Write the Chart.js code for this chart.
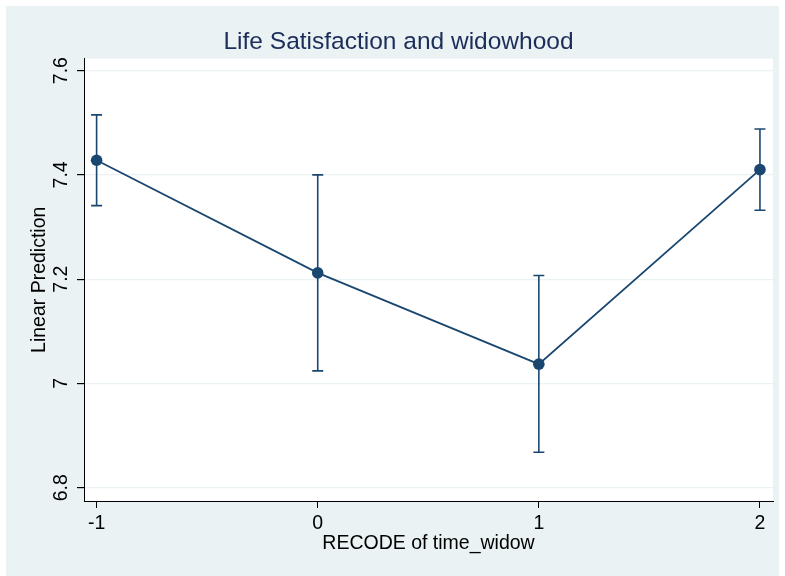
<!DOCTYPE html>
<html>
<head>
<meta charset="utf-8">
<script src="https://cdn.jsdelivr.net/npm/chart.js@4.4.0/dist/chart.umd.min.js"></script>
<style>
  html, body { margin: 0; padding: 0; background: #fff; }
  canvas { display: block; }
</style>
</head>
<body>
<canvas id="myChart" width="785" height="576"></canvas>
<script>
// values
const xValues = [-1, 0, 1, 2];
const xTickLabels = ['-1', '0', '1', '2'];
const yTicks = [6.8, 7, 7.2, 7.4, 7.6];
const yTickLabels = ['6.8', '7', '7.2', '7.4', '7.6'];
const prediction = [7.428, 7.212, 7.037, 7.410];
const ciLow = [7.341, 7.024, 6.868, 7.332];
const ciHigh = [7.515, 7.400, 7.207, 7.488];

const navy = '#1a476f';
const panelBg = '#eaf2f3';
const fontFamily = "'Liberation Sans', Arial, sans-serif";

// error bars as pairs of points separated by gaps
const errorPoints = [];
xValues.forEach((x, i) => {
    errorPoints.push({ x: x, y: ciLow[i] });
    errorPoints.push({ x: x, y: ciHigh[i] });
    errorPoints.push({ x: x, y: null });
});

const background = {
    id: 'background',
    beforeDraw(chart) {
        const { ctx, chartArea } = chart;
        ctx.save();
        ctx.fillStyle = '#fff';
        ctx.fillRect(0, 0, chart.width, chart.height);
        ctx.fillStyle = panelBg;
        ctx.fillRect(6, 6, 773, chart.height - 6);
        ctx.fillStyle = '#fff';
        ctx.fillRect(chartArea.left, chartArea.top, chartArea.right - chartArea.left, chartArea.bottom - chartArea.top);
        ctx.restore();
    }
};

new Chart(document.getElementById('myChart'), {
    type: 'scatter',
    data: {
        datasets: [
            {
                label: 'CI',
                data: errorPoints,
                showLine: true,
                spanGaps: false,
                borderColor: navy,
                borderWidth: 1.6,
                pointStyle: 'line',
                pointRadius: 5.5,
                pointBorderWidth: 1.6,
                pointBorderColor: navy,
                order: 2
            },
            {
                label: 'Linear Prediction',
                data: xValues.map((x, i) => ({ x: x, y: prediction[i] })),
                showLine: true,
                borderColor: navy,
                borderWidth: 1.8,
                pointRadius: 5.8,
                pointBackgroundColor: navy,
                pointBorderColor: navy,
                pointBorderWidth: 0,
                order: 1
            }
        ]
    },
    options: {
        responsive: false,
        animation: false,
        layout: { padding: { left: 24, right: 12, top: 0, bottom: 0 } },
        plugins: {
            legend: { display: false },
            tooltip: { enabled: false },
            title: {
                display: true,
                text: 'Life Satisfaction and widowhood',
                color: '#1c2d5a',
                font: { family: fontFamily, size: 24.5, weight: 'normal' },
                padding: { top: 27.5, bottom: 1.7 }
            }
        },
        scales: {
            x: {
                type: 'linear',
                min: -1.057,
                max: 2.059,
                afterBuildTicks: scale => { scale.ticks = xValues.map(v => ({ value: v })); },
                afterFit: scale => { scale.height = 75; },
                grid: { drawOnChartArea: false, tickLength: 7, tickColor: '#000' },
                border: { color: '#000', width: 1 },
                ticks: {
                    color: '#000',
                    padding: 4,
                    maxRotation: 0,
                    font: { family: fontFamily, size: 19.5 },
                    callback: (v) => xTickLabels[xValues.indexOf(v)]
                },
                title: {
                    display: true,
                    text: 'RECODE of time_widow',
                    color: '#000',
                    font: { family: fontFamily, size: 19.5 },
                    padding: { top: 0, bottom: 21 }
                }
            },
            y: {
                min: 6.7745,
                max: 7.623,
                afterBuildTicks: scale => { scale.ticks = yTicks.map(v => ({ value: v })); },
                afterFit: scale => { scale.width = 60; },
                grid: { color: panelBg, lineWidth: 1.2, tickLength: 7, tickColor: '#000' },
                border: { color: '#000', width: 1 },
                ticks: {
                    color: '#000',
                    padding: 2,
                    minRotation: 90,
                    maxRotation: 90,
                    crossAlign: 'center',
                    font: { family: fontFamily, size: 19.5 },
                    callback: (v) => yTickLabels[yTicks.indexOf(v)]
                },
                title: {
                    display: true,
                    text: 'Linear Prediction',
                    color: '#000',
                    font: { family: fontFamily, size: 19.5 },
                    padding: { top: 4, bottom: 0 }
                }
            }
        }
    },
    plugins: [background]
});
</script>
</body>
</html>
